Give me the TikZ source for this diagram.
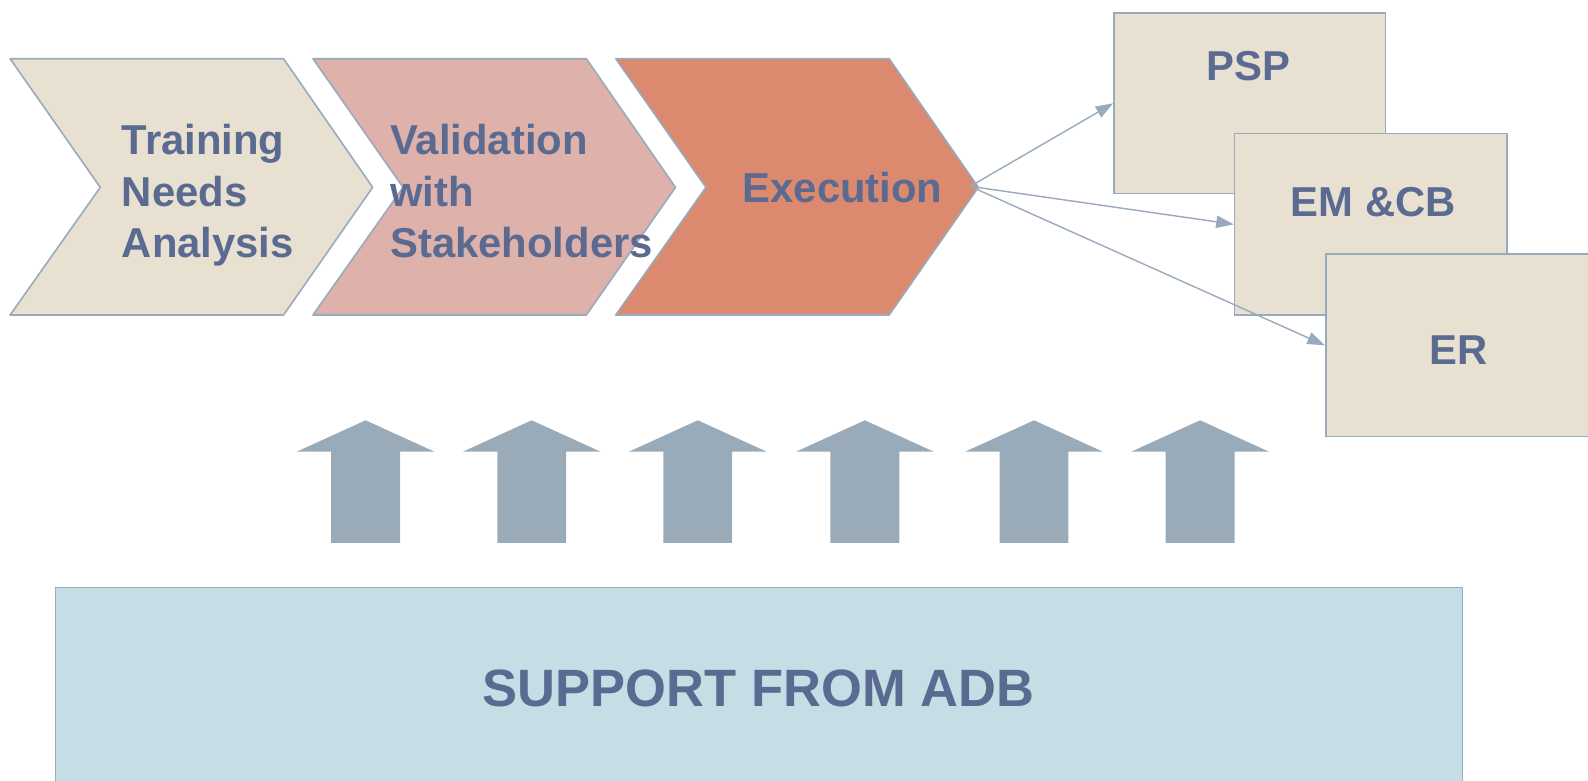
\documentclass[tikz,border=0pt]{standalone}
\usepackage{fontspec}
\setmainfont{Liberation Sans}
\usetikzlibrary{arrows.meta,fit}

\definecolor{sand}{HTML}{E8E0D1}
\definecolor{blush}{HTML}{DEB1AB}
\definecolor{clay}{HTML}{DB8A70}
\definecolor{edge}{HTML}{98AABB}
\definecolor{ink}{HTML}{5A6A90}
\definecolor{steel}{HTML}{99AAB8}
\definecolor{mist}{HTML}{C5DEE5}

\begin{document}
\begin{tikzpicture}[
	x=0.02026cm, y=-0.02026cm
	,chev/.style={draw=edge, line width=.9pt, line join=round}
	,lbl/.style={text=ink, font=\fontsize{23.8}{29.3}\selectfont\bfseries, align=left, inner sep=0pt}
	,box/.style={draw=edge, fill=sand, line width=.9pt, inner sep=0pt}
	,link/.style={draw=edge, line width=.8pt, -{Triangle[length=10pt,width=7pt]}}
	,lift/.style={fill=steel}
]
	\clip (0,0) rectangle (1568,771);

	% process chevrons
	\foreach \dx/\col in {0/sand, 299/blush, 598/clay}
		\path[chev, fill=\col] (\dx+10,58) -- (\dx+280,58) -- (\dx+368,185)
			-- (\dx+280,311) -- (\dx+10,311) -- (\dx+99,185) -- cycle;

	\node[lbl, anchor=west] (tna) at (120,193) {Training\\Needs\\Analysis};
	\node[lbl, anchor=west] (val) at (385,189) {Validation\\with\\Stakeholders};
	\node[lbl, anchor=west] (exe) at (733,185) {Execution};

	% outputs
	\node[box, fit={(1100,13) (1368,191)}] (psp) {};
	\node[box, fit={(1219,132) (1488,311)}] (emcb) {};
	\node[box, fit={(1309,251) (1600,431)}] (er) {};
	\node[lbl] (psptext) at (1233,65) {PSP};
	\node[lbl] (emcbtext) at (1356,200) {EM \&CB};
	\node[lbl] (ertext) at (1440,346) {ER};

	\coordinate (fan) at (958,184);
	\draw[link] (fan) -- (psp.west);
	\draw[link] (fan) -- (emcb.west);
	\draw[link] (fan) -- (er.west);

	% support arrows
	\foreach \cx in {361,525,689,854,1021,1185}
		\fill[lift] (\cx-34,536) -- (\cx-34,446) -- (\cx-68,446) -- (\cx,415)
			-- (\cx+68,446) -- (\cx+34,446) -- (\cx+34,536) -- cycle;

	\node[fit={(55,580) (1444,800)}, fill=mist, draw=edge, line width=.9pt, inner sep=0pt] (adb) {};
	\node[lbl, font=\fontsize{29.9}{36}\selectfont\bfseries] (adbtext) at (749,680) {SUPPORT FROM ADB};
\end{tikzpicture}
\end{document}
